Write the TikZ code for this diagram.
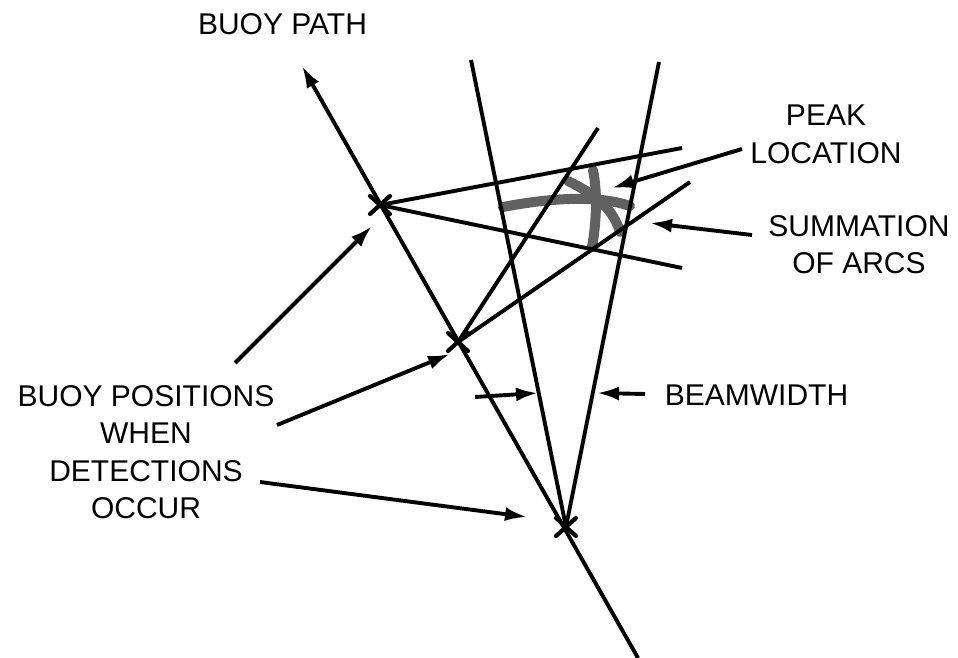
\documentclass[tikz,border=0pt]{standalone}
\usepackage{fontspec}
\setmainfont{Liberation Sans}
\usetikzlibrary{arrows.meta}
\begin{document}
\begin{tikzpicture}[x=1pt,y=-1pt,
  ln/.style={line width=3.9pt},
  arr/.style={line width=3.9pt,-{Latex[length=22pt,width=14pt]}},
  xmark/.style={line width=4.2pt,line cap=round},
  arc/.style={line width=10pt,draw=black!62,line cap=round},
  lbl/.style={font=\fontsize{30}{37.5}\selectfont,align=center,anchor=north,inner sep=0pt}]
\useasboundingbox (0,0) rectangle (958,658);
% key points
\coordinate (pTop) at (302,66);
\coordinate (pBot) at (638,658);
\coordinate (x1) at (380,205);
\coordinate (x2) at (458,342);
\coordinate (x3) at (566,527);
\coordinate (lbTop) at (471,60);
\coordinate (rbTop) at (659,62);
\coordinate (c1) at (682,148);
\coordinate (c2) at (682,268);
\coordinate (b1) at (598,128);
\coordinate (b2) at (690,182);
% grey summation arcs
\draw[arc] (503,207) .. controls (545,199) and (595,194) .. (630,206);
\draw[arc] (568,181) .. controls (590,192) and (612,205) .. (620,232);
\draw[arc] (593,170) .. controls (598,195) and (596,225) .. (592,247);
% buoy path
\draw[arr] (pBot) -- (pTop);
% beams
\draw[ln] (x3) -- (lbTop);
\draw[ln] (x3) -- (rbTop);
\draw[ln] (x1) -- (c1);
\draw[ln] (x1) -- (c2);
\draw[ln] (x2) -- (b1);
\draw[ln] (x2) -- (b2);
% X marks
\foreach \p in {x1,x2,x3}{
  \draw[xmark] ([shift={(-10,-9)}]\p) -- ([shift={(10,9)}]\p);
  \draw[xmark] ([shift={(-10,9)}]\p) -- ([shift={(10,-9)}]\p);
}
% labels
\node[lbl] (tpath) at (282.5,13) {BUOY PATH};
\node[lbl] (tpeak) at (826,105) {PEAK\\LOCATION};
\node[lbl] (tsum) at (859,215) {SUMMATION\\OF ARCS};
\node[lbl] (tbuoy) at (146,385) {BUOY POSITIONS\\WHEN\\DETECTIONS\\OCCUR};
\node[lbl] (tbeam) at (756.5,385) {BEAMWIDTH};
% pointer arrows
\coordinate (pk0) at (742,149); \coordinate (pk1) at (612,188);
\coordinate (sm0) at (752,235); \coordinate (sm1) at (650,223);
\coordinate (bp0) at (235,363); \coordinate (bp1) at (372,226);
\coordinate (bq0) at (277,425); \coordinate (bq1) at (450,354);
\coordinate (br0) at (260,482); \coordinate (br1) at (527,517);
\coordinate (bw0) at (475,397); \coordinate (bw1) at (538,393);
\coordinate (bv0) at (645,394); \coordinate (bv1) at (597,393);
\draw[arr] (pk0) -- (pk1);
\draw[arr] (sm0) -- (sm1);
\draw[arr] (bp0) -- (bp1);
\draw[arr] (bq0) -- (bq1);
\draw[arr] (br0) -- (br1);
\draw[arr] (bw0) -- (bw1);
\draw[arr] (bv0) -- (bv1);
\end{tikzpicture}
\end{document}
